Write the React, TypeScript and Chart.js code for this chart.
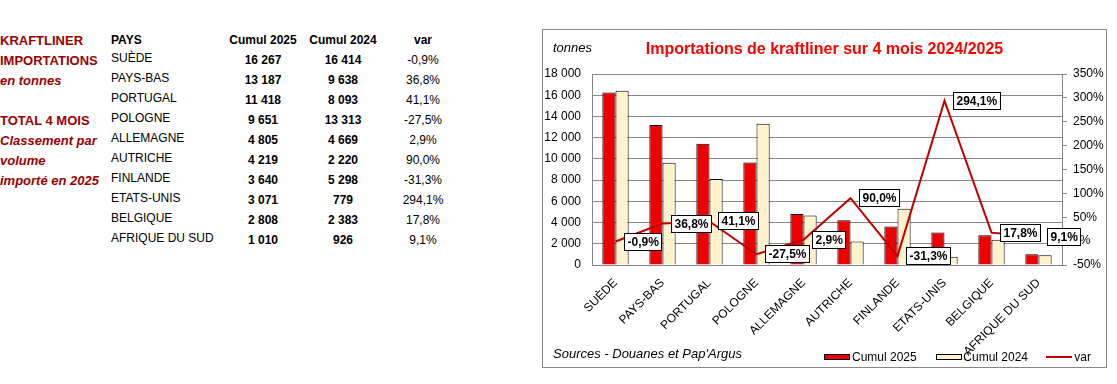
import React, { useEffect, useRef } from 'react';
import { Chart, registerables } from 'chart.js';

Chart.register(...registerables);

const FONT = '"Liberation Sans", Arial, sans-serif';
const GRAY = '#868686';

const countries = ['SUÈDE', 'PAYS-BAS', 'PORTUGAL', 'POLOGNE', 'ALLEMAGNE', 'AUTRICHE', 'FINLANDE', 'ETATS-UNIS', 'BELGIQUE', 'AFRIQUE DU SUD'];
const cumul2025 = [16267, 13187, 11418, 9651, 4805, 4219, 3640, 3071, 2808, 1010];
const cumul2024 = [16414, 9638, 8093, 13313, 4669, 2220, 5298, 779, 2383, 926];
const variation = [-0.9, 36.8, 41.1, -27.5, 2.9, 90.0, -31.3, 294.1, 17.8, 9.1];

const tonnesRange = [0, 18000, 2000];
const pctRange = [-50, 350, 50];

const sideNotes = ['KRAFTLINER', 'IMPORTATIONS', 'en tonnes', '', 'TOTAL 4 MOIS', 'Classement par', 'volume', 'importé en 2025'];
const sideItalic = [false, false, true, false, false, true, true, true];

const fmtInt = (v: number) => String(v).replace(/\B(?=(\d{3})+(?!\d))/g, ' ');
const fmtPct = (v: number) => v.toFixed(1).replace('.', ',') + '%';

type TProps = {
  x: number; base: number; size: number; bold?: boolean; italic?: boolean;
  color?: string; align?: 'left' | 'center' | 'right'; children: React.ReactNode;
};

function T({ x, base, size, bold, italic, color = '#000', align = 'left', children }: TProps) {
  const style: React.CSSProperties = {
    position: 'absolute',
    top: base - 0.8465 * size,
    left: x,
    fontFamily: FONT,
    fontSize: size,
    lineHeight: size + 'px',
    fontWeight: bold ? 700 : 400,
    fontStyle: italic ? 'italic' : 'normal',
    color,
    whiteSpace: 'nowrap',
    transform: align === 'center' ? 'translateX(-50%)' : align === 'right' ? 'translateX(-100%)' : undefined,
  };
  return <div style={style}>{children}</div>;
}

const varLabels = {
  id: 'varLabels',
  afterDatasetsDraw(chart: any) {
    const meta = chart.getDatasetMeta(0);
    const ctx = chart.ctx;
    ctx.save();
    ctx.font = 'bold 12px ' + FONT;
    ctx.textBaseline = 'middle';
    ctx.textAlign = 'left';
    meta.data.forEach((pt: any, i: number) => {
      const text = fmtPct(variation[i]);
      const w = Math.round(ctx.measureText(text).width + 7);
      const h = 18;
      const x = Math.round(pt.x + 8);
      const y = Math.round(pt.y - h / 2);
      ctx.fillStyle = '#fff';
      ctx.fillRect(x, y, w, h);
      ctx.strokeStyle = '#000';
      ctx.lineWidth = 1;
      ctx.strokeRect(x + 0.5, y + 0.5, w - 1, h - 1);
      ctx.fillStyle = '#000';
      ctx.fillText(text, x + 3.5, y + h / 2 + 0.5);
    });
    ctx.restore();
  },
};

function KraftChart() {
  const ref = useRef<HTMLCanvasElement | null>(null);
  useEffect(() => {
    if (!ref.current) return;
    const font = { family: FONT, size: 12 };
    const chart = new Chart(ref.current, {
      type: 'bar',
      data: {
        labels: countries,
        datasets: [
          {
            type: 'line', label: 'var', data: variation, yAxisID: 'y1',
            borderColor: '#C00000', borderWidth: 2, pointRadius: 0, tension: 0, order: 0,
          } as any,
          {
            type: 'bar', label: 'Cumul 2025', data: cumul2025, yAxisID: 'y',
            backgroundColor: '#EE0000', borderColor: '#000', borderWidth: 1,
            categoryPercentage: 0.56, barPercentage: 1, order: 1,
          },
          {
            type: 'bar', label: 'Cumul 2024', data: cumul2024, yAxisID: 'y',
            backgroundColor: '#FFF2CC', borderColor: '#000', borderWidth: 1,
            categoryPercentage: 0.56, barPercentage: 1, order: 1,
          },
        ],
      },
      options: {
        animation: false,
        responsive: false,
        devicePixelRatio: 1,
        layout: { padding: { top: 45, left: 0, right: 0, bottom: 0 } },
        plugins: { legend: { display: false }, tooltip: { enabled: false }, title: { display: false } },
        scales: {
          x: {
            grid: { display: false, drawTicks: false },
            border: { display: true, color: GRAY },
            ticks: { autoSkip: false, minRotation: 45, maxRotation: 45, padding: 11, color: '#000', font },
            afterFit: (s: any) => { s.height = 103; },
          },
          y: {
            position: 'left',
            min: tonnesRange[0], max: tonnesRange[1],
            ticks: { stepSize: tonnesRange[2], padding: 11, color: '#000', font, callback: (v: any) => fmtInt(Number(v)) },
            grid: { color: GRAY, drawTicks: false },
            border: { color: GRAY },
            afterFit: (s: any) => { s.width = 50; },
          },
          y1: {
            position: 'right',
            min: pctRange[0], max: pctRange[1],
            ticks: { stepSize: pctRange[2], padding: 6, color: '#000', font, callback: (v: any) => v + '%' },
            grid: { drawOnChartArea: false, drawTicks: true, tickLength: 5, color: GRAY },
            border: { color: GRAY },
            afterFit: (s: any) => { s.width = 45; },
          },
        },
      } as any,
      plugins: [varLabels],
    });
    return () => chart.destroy();
  }, []);
  return (
    <canvas
      ref={ref}
      width={565}
      height={339}
      style={{ position: 'absolute', left: 542, top: 29, width: 565, height: 339 }}
    />
  );
}

export default function App() {
  return (
    <div style={{ position: 'absolute', left: 0, top: 0, width: 1117, height: 384, background: '#fff', overflow: 'hidden' }}>
      {sideNotes.map((s, i) => (s ? (
        <T key={'n' + i} x={0} base={45 + 20 * i} size={13} bold italic={sideItalic[i]} color="#990000">{s}</T>
      ) : null))}
      <T x={111} base={44.5} size={12} bold>PAYS</T>
      <T x={263} base={44.5} size={12} bold align="center">Cumul 2025</T>
      <T x={343} base={44.5} size={12} bold align="center">Cumul 2024</T>
      <T x={423} base={44.5} size={12} bold align="center">var</T>
      {countries.map((c, i) => (
        <React.Fragment key={c}>
          <T x={111} base={62.3 + 20 * i} size={12}>{c}</T>
          <T x={263} base={64 + 20 * i} size={12} bold align="center">{fmtInt(cumul2025[i])}</T>
          <T x={343} base={64 + 20 * i} size={12} bold align="center">{fmtInt(cumul2024[i])}</T>
          <T x={423} base={64 + 20 * i} size={12} align="center">{fmtPct(variation[i])}</T>
        </React.Fragment>
      ))}

      <div style={{ position: 'absolute', left: 542, top: 29, width: 565, height: 339, border: '1px solid ' + GRAY, boxSizing: 'border-box' }} />
      <KraftChart />

      <T x={553} base={52.3} size={13} italic>tonnes</T>
      <T x={824.5} base={55} size={16} bold color="#FF0000" align="center">Importations de kraftliner sur 4 mois 2024/2025</T>
      <T x={553} base={358.3} size={13} italic>Sources - Douanes et Pap'Argus</T>

      <div style={{ position: 'absolute', left: 824, top: 354, width: 26, height: 6, background: '#EE0000', border: '1px solid #000', boxSizing: 'border-box' }} />
      <T x={852} base={361} size={12}>Cumul 2025</T>
      <div style={{ position: 'absolute', left: 936, top: 354, width: 26, height: 6, background: '#FFF2CC', border: '1px solid #000', boxSizing: 'border-box' }} />
      <T x={963.3} base={361} size={12}>Cumul 2024</T>
      <div style={{ position: 'absolute', left: 1046, top: 356, width: 26, height: 2, background: '#C00000' }} />
      <T x={1074.3} base={361} size={12}>var</T>
    </div>
  );
}
